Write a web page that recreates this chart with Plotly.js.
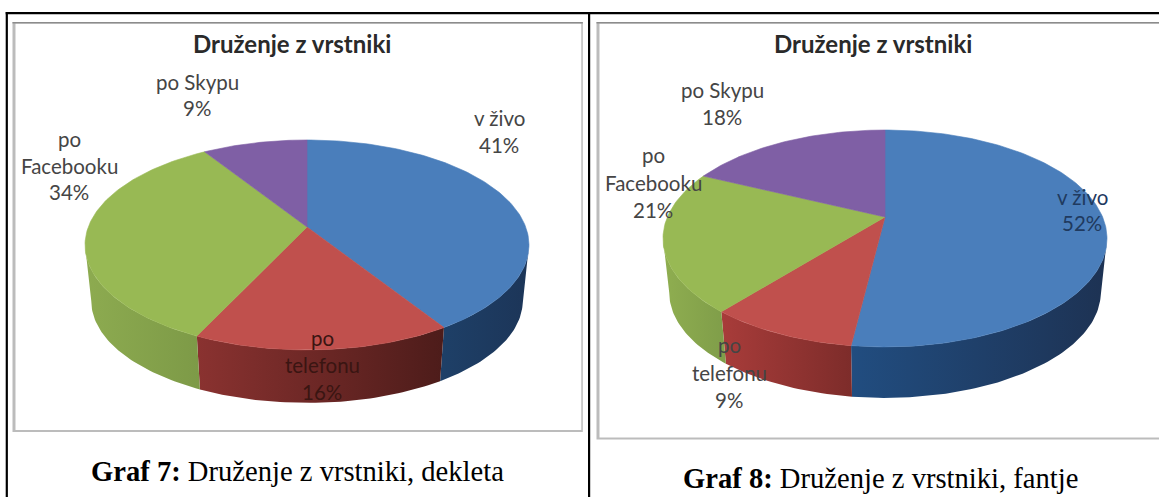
<!DOCTYPE html>
<html><head><meta charset="utf-8">
<script src="https://cdn.plot.ly/plotly-3.0.1.min.js"></script>
<style>html,body{margin:0;padding:0;background:#fff}#c{width:1159px;height:497px}</style>
</head><body><div id="c"></div>
<script>
// DATA
const categories = ['v živo', 'po telefonu', 'po Facebooku', 'po Skypu'];
const valuesGirls = [41, 16, 34, 9];
const valuesBoys = [52, 9, 21, 18];
const chartTitle = 'Druženje z vrstniki';
const captionGirls = ['Graf 7:', ' Druženje z vrstniki, dekleta'];
const captionBoys = ['Graf 8:', ' Druženje z vrstniki, fantje'];

// STYLE / GEOMETRY
const topColors = ['#4a7ebb', '#c0504d', '#98b954', '#7f5fa5'];
const geomGirls = {x0:307, y0:227, A:218.7, B:101.9, k:0.171, h:56.4, s:0.972,
  wall:[['#1e4068','#1c3558'],['#8a3230','#4d1c1a'],['#8dab50','#7d9a47'],['#5c4478','#5c4478']]};
const geomBoys = {x0:885, y0:217, A:217.6, B:104.2, k:0.198, h:54.6, s:0.972,
  wall:[['#214d80','#1d3253'],['#a83c3a','#7d2c2a'],['#8fae50','#7f9d49'],['#5c4478','#5c4478']]};

function project(g, theta, bottom){
  const u = Math.sin(theta), v = -Math.cos(theta), w = 1 - g.k * v, s = bottom ? g.s : 1;
  return [g.x0 + s * g.A * u / w, g.y0 + s * g.B * v / w + (bottom ? g.h : 0)];
}
function arc(g, a, b, bottom){
  const n = Math.max(2, Math.ceil(Math.abs(b - a) / 0.02)), pts = [];
  for (let i = 0; i <= n; i++) pts.push(project(g, a + (b - a) * i / n, bottom));
  return pts;
}
function pieTraces(values, g){
  const total = values.reduce((s, v) => s + v, 0), tops = [], walls = [];
  const lo = Math.PI - Math.acos(g.k), hi = 2 * Math.PI - lo;   // visible front of the wall
  let acc = 0;
  values.forEach((val, i) => {
    const a = acc / total * 2 * Math.PI; acc += val;
    const b = acc / total * 2 * Math.PI;
    const a2 = Math.max(a, lo), b2 = Math.min(b, hi);
    if (b2 > a2) {
      const pts = arc(g, a2, b2, false).concat(arc(g, b2, a2, true));
      pts.push(pts[0]);
      walls.push({type:'scatter', mode:'lines', x:pts.map(p=>p[0]), y:pts.map(p=>p[1]),
        line:{width:0}, fill:'toself', hoverinfo:'skip', showlegend:false,
        fillgradient:{type:'horizontal', colorscale:[[0,g.wall[i][0]],[1,g.wall[i][1]]]},
        name:categories[i]});
    }
    const p = [[g.x0, g.y0]].concat(arc(g, a, b, false)); p.push([g.x0, g.y0]);
    tops.push({type:'scatter', mode:'lines', x:p.map(q=>q[0]), y:p.map(q=>q[1]),
      line:{width:0.6, color:topColors[i]}, fill:'toself', fillcolor:topColors[i],
      hoverinfo:'text', text:categories[i] + ' ' + val + '%', showlegend:false, name:categories[i]});
  });
  return walls.concat(tops);
}

const labelFont = {family:'Lato,"Open Sans",sans-serif', size:20.5, color:'#454545'};
function label(x, y, lines, gap, color){
  return lines.map((t, i) => ({xref:'x', yref:'y', x:x, y:y + i * gap, text:t, showarrow:false,
    xanchor:'center', yanchor:'middle', font:Object.assign({}, labelFont, color ? {color:color} : {})}));
}
function pctLabel(values, i, pos){
  return label(pos.x, pos.y, pos.lines.concat(values[i] + '%'), pos.gap, pos.color);
}
function title(x){
  return {xref:'x', yref:'y', x:x, y:43, text:'<b>' + chartTitle + '</b>', showarrow:false,
    xanchor:'center', yanchor:'middle', font:{family:'Lato,"Open Sans",sans-serif', size:24, color:'#2a2a2a'}};
}
function caption(x, y, parts){
  return {xref:'x', yref:'y', x:x, y:y, text:'<b>' + parts[0] + '</b>' + parts[1], showarrow:false,
    xanchor:'center', yanchor:'middle', font:{family:'"Liberation Serif","Times New Roman",serif', size:28.6, color:'#000'}};
}
function box(x0, y0, x1, y1, color){
  return {type:'rect', xref:'x', yref:'y', x0, y0, x1, y1, fillcolor:color, line:{width:0}, layer:'below'};
}
function frame(x0, y0, x1, y1){
  return [
    box(x0, y0, x1, y1, '#bcbcbc'),
    box(x0 + 3, y0 + 1.5, x1 - 1.5, y1 - 2, '#ffffff'),
    box(x0, y0, x1, y0 + 1.5, '#8c8c8c')
  ];
}

const annotations = [title(292), title(873)]
  .concat(pctLabel(valuesGirls, 0, {x:499, y:118, gap:27, lines:['v živo']}))
  .concat(pctLabel(valuesGirls, 1, {x:322, y:338, gap:27, lines:['po','telefonu'], color:'#3a1512'}))
  .concat(pctLabel(valuesGirls, 2, {x:69, y:139, gap:26.5, lines:['po','Facebooku']}))
  .concat(pctLabel(valuesGirls, 3, {x:197, y:82, gap:26, lines:['po Skypu']}))
  .concat(pctLabel(valuesBoys, 0, {x:1082, y:197, gap:26, lines:['v živo'], color:'#1f3a5f'}))
  .concat(pctLabel(valuesBoys, 1, {x:729, y:345, gap:27.5, lines:['po','telefonu']}))
  .concat(pctLabel(valuesBoys, 2, {x:653, y:155, gap:27.5, lines:['po','Facebooku']}))
  .concat(pctLabel(valuesBoys, 3, {x:722, y:90, gap:27, lines:['po Skypu']}))
  .concat([caption(297.5, 471.5, captionGirls), caption(880.5, 478.5, captionBoys)]);

const shapes = [].concat(
  frame(12.5, 22, 582.8, 432), frame(596.5, 22, 1175, 439.5),
  [box(5.7, 12, 1159, 14.2, '#000'), box(5.7, 12, 7.9, 497, '#000'), box(588, 12, 590.2, 497, '#000')]
);

const traces = pieTraces(valuesGirls, geomGirls).concat(pieTraces(valuesBoys, geomBoys));
Plotly.newPlot('c', traces, {
  width:1159, height:497, margin:{l:0, r:0, t:0, b:0},
  paper_bgcolor:'#fff', plot_bgcolor:'#fff', showlegend:false,
  xaxis:{range:[0,1159], visible:false, fixedrange:true},
  yaxis:{range:[497,0], visible:false, fixedrange:true},
  annotations, shapes
}, {displayModeBar:false, staticPlot:true});
</script></body></html>
